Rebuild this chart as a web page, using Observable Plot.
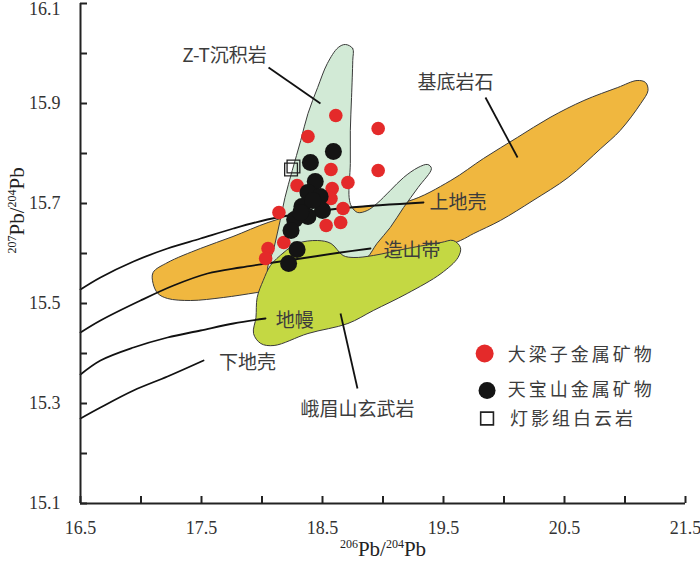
<!DOCTYPE html>
<html><head><meta charset="utf-8">
<script src="https://cdn.jsdelivr.net/npm/d3@7"></script>
<script src="https://cdn.jsdelivr.net/npm/@observablehq/plot@0.6"></script>
<style>body{margin:0;background:#fff}</style>
</head><body><div id="chart"></div>
<script>
// ---- axes ----
const xTicks = [16.5, 17.0, 17.5, 18.0, 18.5, 19.0, 19.5, 20.0, 20.5, 21.0, 21.5];
const xLabels = [16.5, 17.5, 18.5, 19.5, 20.5, 21.5];
const yTicks = [15.1, 15.2, 15.3, 15.4, 15.5, 15.6, 15.7, 15.8, 15.9, 16.0, 16.1];
const yLabels = [15.1, 15.3, 15.5, 15.7, 15.9];
const yTopLabel = [16.1];
const xTitleParts = [["206", true], ["Pb", false], ["/", false], ["204", true], ["Pb", false]];
const yTitleParts = [["207", true], ["Pb", false], ["/", false], ["204", true], ["Pb", false]];

// ---- samples ----
const daliangziX = [18.61, 18.96, 18.38, 18.57, 18.96, 18.71, 18.29, 18.58, 18.57, 18.67, 18.14, 18.65, 18.53, 18.18, 18.05, 18.03];
const daliangziY = [15.876, 15.850, 15.834, 15.768, 15.766, 15.742, 15.736, 15.730, 15.710, 15.690, 15.682, 15.662, 15.656, 15.622, 15.610, 15.590];
const tianbaoshanX = [18.59, 18.40, 18.44, 18.38, 18.48, 18.33, 18.50, 18.38, 18.27, 18.24, 18.29, 18.22, 18.42, 18.32];
const tianbaoshanY = [15.804, 15.782, 15.744, 15.722, 15.714, 15.694, 15.686, 15.674, 15.668, 15.646, 15.608, 15.580, 15.706, 15.682];
const dengyingX = [18.24, 18.26];
const dengyingY = [15.768, 15.774];

// ---- fields ----
const sedimentX = [18.69, 18.75, 18.75, 18.74, 18.73, 18.73, 18.72, 18.74, 18.79, 18.87, 18.95, 19.06, 19.17, 19.29, 19.37, 19.40, 19.29, 19.17, 19.06, 18.95, 18.87, 18.77, 18.48, 18.19, 18.05, 18.10, 18.15, 18.19, 18.25, 18.32, 18.38, 18.46, 18.54, 18.63];
const sedimentY = [16.018, 16.010, 15.986, 15.912, 15.846, 15.780, 15.712, 15.694, 15.682, 15.686, 15.700, 15.726, 15.752, 15.772, 15.778, 15.770, 15.732, 15.692, 15.652, 15.620, 15.592, 15.576, 15.570, 15.562, 15.562, 15.612, 15.666, 15.712, 15.766, 15.826, 15.880, 15.932, 15.980, 16.012];
const basementX = [17.10, 17.22, 17.49, 17.76, 18.05, 18.32, 18.73, 19.20, 19.56, 19.83, 20.11, 20.38, 20.66, 20.94, 21.10, 21.17, 21.19, 21.13, 20.96, 20.80, 20.53, 20.24, 19.97, 19.75, 19.64, 19.15, 18.32, 17.96, 17.68, 17.41, 17.22, 17.14, 17.10];
const basementY = [15.562, 15.582, 15.610, 15.634, 15.662, 15.680, 15.692, 15.704, 15.746, 15.790, 15.832, 15.872, 15.906, 15.932, 15.946, 15.942, 15.926, 15.900, 15.846, 15.810, 15.752, 15.706, 15.666, 15.640, 15.626, 15.582, 15.536, 15.522, 15.512, 15.506, 15.510, 15.520, 15.540];
const emeiX = [18.07, 18.18, 18.29, 18.46, 18.57, 18.67, 18.76, 18.92, 19.20, 19.48, 19.58, 19.64, 19.62, 19.48, 19.20, 18.92, 18.71, 18.38, 18.10, 17.99, 17.93, 17.95, 17.96, 18.01];
const emeiY = [15.576, 15.602, 15.620, 15.626, 15.620, 15.596, 15.592, 15.596, 15.610, 15.622, 15.626, 15.612, 15.592, 15.560, 15.520, 15.486, 15.460, 15.440, 15.416, 15.420, 15.440, 15.472, 15.512, 15.546];

// ---- growth curves ----
const upperCrustX = [16.5, 16.665, 16.938, 17.219, 17.492, 17.764, 18.045, 18.318, 18.731, 19.335];
const upperCrustY = [15.528, 15.552, 15.584, 15.610, 15.630, 15.650, 15.668, 15.680, 15.692, 15.702];
const orogenX = [16.5, 16.665, 16.996, 17.269, 17.550, 17.822, 18.095, 18.376, 18.649, 18.897];
const orogenY = [15.442, 15.466, 15.506, 15.536, 15.560, 15.572, 15.582, 15.592, 15.602, 15.610];
const mantleX = [16.5, 16.665, 16.938, 17.219, 17.492, 17.764, 18.029];
const mantleY = [15.358, 15.386, 15.412, 15.432, 15.446, 15.460, 15.470];
const lowerCrustX = [16.5, 16.665, 16.938, 17.219, 17.517];
const lowerCrustY = [15.270, 15.292, 15.326, 15.354, 15.386];

// ---- annotations ----
const labelText = ["Z-T沉积岩", "基底岩石", "上地壳", "造山带", "地幔", "下地壳", "峨眉山玄武岩"];
const labelX = [17.69, 19.60, 19.62, 19.24, 18.27, 17.88, 18.79];
const labelY = [15.996, 15.942, 15.702, 15.606, 15.466, 15.382, 15.288];
const leaderX1 = [18.054, 19.847, 18.649];
const leaderY1 = [15.972, 15.912, 15.480];
const leaderX2 = [18.483, 20.112, 18.789];
const leaderY2 = [15.900, 15.792, 15.330];

const legendText = ["大梁子金属矿物", "天宝山金属矿物", "灯影组白云岩"];
const legendSymX = [19.84, 19.86, 19.86];
const legendSymY = [15.400, 15.326, 15.270];
const legendTextX = [20.03, 20.03, 20.05];
const legendTextY = [15.396, 15.326, 15.268];

const zip = (X, Y) => X.map((x, i) => ({x, y: Y[i]}));
const cjk = "Noto Sans CJK SC";
const ink = "#3c3c3c";
const y0 = yTicks[0], x0 = xTicks[0];

const chart = Plot.plot({
  width: 700, height: 569,
  marginLeft: 80, marginRight: 15, marginTop: 3, marginBottom: 66,
  style: {fontFamily: "Liberation Serif", color: "#333", background: "#fff"},
  x: {domain: [16.5, 21.5]},
  y: {domain: [15.1, 16.1]},
  marks: [
    Plot.line(zip(basementX, basementY), {x: "x", y: "y", curve: "catmull-rom-closed", fill: "#F0B73F", stroke: "#3a3a3a", strokeWidth: 1}),
    Plot.line(zip(sedimentX, sedimentY), {x: "x", y: "y", curve: "catmull-rom-closed", fill: "#D2EAD6", stroke: "#3a3a3a", strokeWidth: 1}),
    Plot.line(zip(emeiX, emeiY), {x: "x", y: "y", curve: "catmull-rom-closed", fill: "#C4D843", stroke: "#3a3a3a", strokeWidth: 1}),
    Plot.line(zip(upperCrustX, upperCrustY), {x: "x", y: "y", curve: "catmull-rom", stroke: "#111", strokeWidth: 1.8}),
    Plot.line(zip(orogenX, orogenY), {x: "x", y: "y", curve: "catmull-rom", stroke: "#111", strokeWidth: 1.8}),
    Plot.line(zip(mantleX, mantleY), {x: "x", y: "y", curve: "catmull-rom", stroke: "#111", strokeWidth: 1.8}),
    Plot.line(zip(lowerCrustX, lowerCrustY), {x: "x", y: "y", curve: "catmull-rom", stroke: "#111", strokeWidth: 1.8}),
    Plot.link(leaderX1.map((d, i) => i), {x1: i => leaderX1[i], y1: i => leaderY1[i], x2: i => leaderX2[i], y2: i => leaderY2[i], stroke: "#111", strokeWidth: 1.8}),
    Plot.dot(zip(daliangziX, daliangziY), {x: "x", y: "y", r: 6.8, fill: "#E42A2A"}),
    Plot.dot(zip(tianbaoshanX, tianbaoshanY), {x: "x", y: "y", r: 8.5, fill: "#141414"}),
    Plot.dot(zip(dengyingX, dengyingY), {x: "x", y: "y", symbol: "square", r: 7.2, fill: "none", stroke: "#222", strokeWidth: 1.3}),
    Plot.text(labelText.map((t, i) => ({t, x: labelX[i], y: labelY[i]})), {x: "x", y: "y", text: "t", fontSize: 19, fontFamily: cjk, fill: ink}),
    // legend
    Plot.dot([0], {x: () => legendSymX[0], y: () => legendSymY[0], r: 9, fill: "#E42A2A"}),
    Plot.dot([1], {x: () => legendSymX[1], y: () => legendSymY[1], r: 8.5, fill: "#141414"}),
    Plot.dot([2], {x: () => legendSymX[2], y: () => legendSymY[2], symbol: "square", r: 7.2, fill: "none", stroke: "#222", strokeWidth: 1.6}),
    Plot.text(legendText.map((t, i) => ({t, x: legendTextX[i], y: legendTextY[i]})), {x: "x", y: "y", text: "t", textAnchor: "start", fontSize: 18, fontFamily: cjk, fill: ink}),
    // axes
    Plot.ruleX([x0], {stroke: "#222", strokeWidth: 2}),
    Plot.ruleY([y0], {stroke: "#222", strokeWidth: 2}),
    Plot.ruleX(xTicks, {x: d => d, y1: y0, y2: y0 + 0.014, stroke: "#222", strokeWidth: 2}),
    Plot.ruleY(yTicks, {y: d => d, x1: x0, x2: x0 + 0.058, stroke: "#222", strokeWidth: 2}),
    Plot.axisX(xLabels, {tickSize: 0, tickPadding: 18, fontSize: 18, label: null, tickFormat: d => d.toFixed(1)}),
    Plot.axisY(yLabels, {tickSize: 0, tickPadding: 20, fontSize: 18, label: null, tickFormat: d => d.toFixed(1)}),
    Plot.axisY(yTopLabel, {tickSize: 0, tickPadding: 20, fontSize: 18, label: null, dy: 6, tickFormat: d => d.toFixed(1)}),
    Plot.text(["XTITLE"], {text: d => d, frameAnchor: "bottom", dy: 52, fontSize: 21, fill: "#222"}),
    Plot.text(["YTITLE"], {text: d => d, frameAnchor: "left", dx: -63, rotate: -90, fontSize: 21, fill: "#222"})
  ]
});

function buildTitle(el, parts) {
  const t = d3.select(el);
  t.text(null);
  let shifted = false;
  parts.forEach(([s, sup]) => {
    const ts = t.append("tspan").text(s);
    if (sup) { ts.attr("font-size", 12).attr("dy", shifted ? 0 : -8); shifted = true; }
    else { ts.attr("font-size", 21).attr("dy", shifted ? 8 : 0); shifted = false; }
  });
}
d3.select(chart).selectAll("text").each(function () {
  const s = this.textContent;
  if (s === "XTITLE") buildTitle(this, xTitleParts);
  else if (s === "YTITLE") buildTitle(this, yTitleParts);
  else if (legendText.includes(s)) d3.select(this).attr("letter-spacing", "3px");
});
document.getElementById("chart").appendChild(chart);
</script>
</body></html>
